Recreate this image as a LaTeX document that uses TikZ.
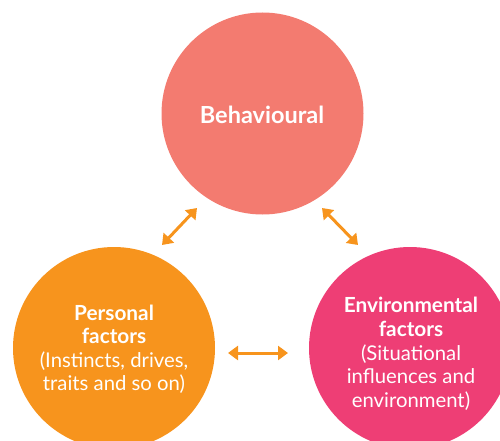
\documentclass[tikz,border=0pt]{standalone}
\usepackage{fontspec}
\setmainfont{Lato}
\usetikzlibrary{arrows.meta}
\definecolor{salmon}{HTML}{F37B70}
\definecolor{orng}{HTML}{F7941D}
\definecolor{pnk}{HTML}{EE3E75}
\begin{document}
\begin{tikzpicture}[x=1pt,y=-1pt,
  blob/.style={circle,minimum size=202pt,inner sep=0pt,draw=none},
  lbl/.style={text=white,anchor=base,inner sep=0pt,font=\fontsize{20.3}{23}\selectfont},
  blbl/.style={lbl,font=\fontsize{20.8}{23}\selectfont\bfseries},
  link/.style={orng,line width=3pt,{Triangle[length=10pt,width=14pt]}-{Triangle[length=10pt,width=14pt]}}]
\useasboundingbox (0,0) rectangle (500,441);
\begin{scope}
\clip (0,0) rectangle (500,441);
\node[blob,fill=salmon] (beh) at (262.5,113.5) {};
\node[blob,fill=orng] (pers) at (114,348) {};
\node[blob,fill=pnk] (env) at (410,348) {};
\end{scope}
\node[blbl,font=\fontsize{23.5}{23}\selectfont\bfseries] (t1) at (262,123) {Behavioural};
\node[blbl] (p1) at (114,320) {Personal};
\node[blbl] (p2) at (114,343) {factors};
\node[lbl] (p3) at (114,367) {(Instincts, drives,};
\node[lbl] (p4) at (114,390) {traits and so on)};
\node[blbl] (e1) at (411,312) {Environmental};
\node[blbl] (e2) at (411,336) {factors};
\node[lbl] (e3) at (411,360) {(Situational};
\node[lbl] (e4) at (411,383) {influences and};
\node[lbl] (e5) at (411,407) {environment)};
\coordinate (a1) at (162,245);
\coordinate (a2) at (197,208);
\coordinate (b1) at (322,208);
\coordinate (b2) at (358,245);
\coordinate (c1) at (228,353);
\coordinate (c2) at (288,353);
\draw[link] (a1) -- (a2);
\draw[link] (b1) -- (b2);
\draw[link] (c1) -- (c2);
\end{tikzpicture}
\end{document}
